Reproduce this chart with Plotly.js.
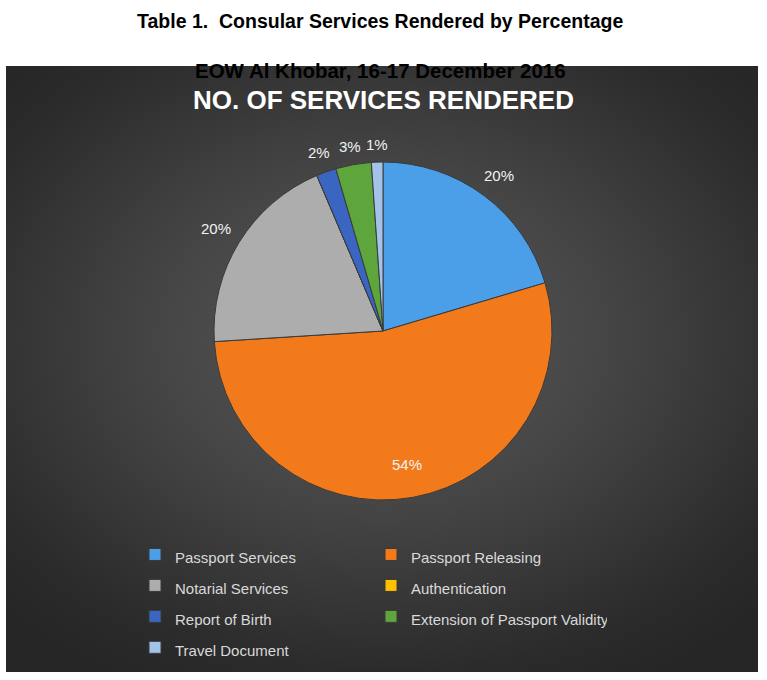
<!DOCTYPE html>
<html>
<head>
<meta charset="utf-8">
<script src="https://cdn.plot.ly/plotly-3.0.1.min.js"></script>
<style>
  html, body { margin: 0; padding: 0; background: #ffffff; }
  #wrap { position: relative; width: 767px; height: 680px; }
  #bg { position: absolute; left: 6px; top: 66px; width: 752px; height: 606px;
        background: radial-gradient(ellipse 70% 65% at 50% 45%, #5a5a5a 0%, #444444 45%, #2b2b2b 85%, #262626 100%); }
  #chart { position: absolute; left: 0; top: 0; width: 767px; height: 680px; }
</style>
</head>
<body>
<div id="wrap"><div id="bg"></div><div id="chart"></div></div>
<script>
const categories = ["Passport Services", "Passport Releasing", "Notarial Services", "Authentication",
                    "Report of Birth", "Extension of Passport Validity", "Travel Document"];
const shares = [20.4, 53.6, 19.6, 0, 1.9, 3.4, 1.1];
const sliceColors = ["#4a9fe8", "#f27a1a", "#adadad", "#ffc000", "#3a66c2", "#5ea63b", "#a3c3e8"];
const labelInside = [false, true, false, false, false, false, false];
const legendLabels = categories.map(c => '<span style="font-size:15px">' + c + '</span>');

const W = 767, H = 680, ML = 130, MR = 130;
const GW = W - ML - MR;
const px2x = px => (px - ML) / GW;
const px2y = py => 1 - py / H;

const trace = {
  type: "pie",
  labels: legendLabels,
  values: shares,
  sort: false,
  direction: "clockwise",
  rotation: 0,
  marker: { colors: sliceColors, line: { color: "#3a3a3a", width: 1 } },
  textinfo: "none",
  textposition: "none",
  hoverinfo: "none",
  domain: { x: [px2x(383 - 169), px2x(383 + 169)], y: [px2y(331 + 169), px2y(331 - 169)] }
};

const baseAnnotations = [
  { text: "<b>Table 1.  Consular Services Rendered by Percentage</b>", xref: "paper", yref: "paper",
    x: px2x(380), y: px2y(21), xanchor: "center", yanchor: "middle", showarrow: false,
    font: { family: "Liberation Sans, Arial, sans-serif", size: 19.5, color: "#000000" } },
  { text: "<b>EOW Al Khobar, 16-17 December 2016</b>", xref: "paper", yref: "paper",
    x: px2x(380), y: px2y(71), xanchor: "center", yanchor: "middle", showarrow: false,
    font: { family: "Liberation Sans, Arial, sans-serif", size: 20.5, color: "#000000" } },
  { text: "<b>NO. OF SERVICES RENDERED</b>", xref: "paper", yref: "paper",
    x: px2x(383), y: px2y(100), xanchor: "center", yanchor: "middle", showarrow: false,
    font: { family: "Liberation Sans, Arial, sans-serif", size: 26, color: "#ffffff" } }
];

const layout = {
  width: W, height: H,
  margin: { l: ML, r: MR, t: 0, b: 0 },
  paper_bgcolor: "rgba(0,0,0,0)",
  plot_bgcolor: "rgba(0,0,0,0)",
  showlegend: true,
  legend: {
    orientation: "h",
    x: px2x(371), xanchor: "center",
    y: px2y(534), yanchor: "top",
    entrywidth: 191, entrywidthmode: "pixels",
    font: { family: "Liberation Sans, Arial, sans-serif", size: 21.5, color: "#d9d9d9" },
    bgcolor: "rgba(0,0,0,0)"
  },
  annotations: baseAnnotations
};

Plotly.newPlot("chart", [trace], layout, { displayModeBar: false, staticPlot: true }).then(gd => {
  const cd = gd.calcdata[0];
  const cd0 = cd[0];
  const gs = gd._fullLayout._size;
  const r = cd0.r, cx = cd0.cx, cy = cd0.cy;
  const labelAnns = [];
  cd.forEach(pt => {
    if (!(pt.v > 0)) return;
    const ux = pt.pxmid[0] / r, uy = pt.pxmid[1] / r;
    const txt = Math.round(100 * pt.v / cd0.vTotal) + "%";
    let dist;
    if (labelInside[pt.i]) {
      dist = 0.8 * r;
    } else {
      const halfW = txt.length * 5.6, halfH = 9;
      dist = r + 8 + Math.abs(ux) * halfW + Math.abs(uy) * halfH;
    }
    const px = cx + ux * dist, py = cy + uy * dist;
    labelAnns.push({
      text: txt, xref: "paper", yref: "paper",
      x: (px - gs.l) / gs.w, y: 1 - (py - gs.t) / gs.h,
      xanchor: "center", yanchor: "middle", showarrow: false,
      font: { family: "Liberation Sans, Arial, sans-serif", size: 15, color: "#f2f2f2" }
    });
  });
  return Plotly.relayout(gd, { annotations: baseAnnotations.concat(labelAnns) });
});
</script>
</body>
</html>
